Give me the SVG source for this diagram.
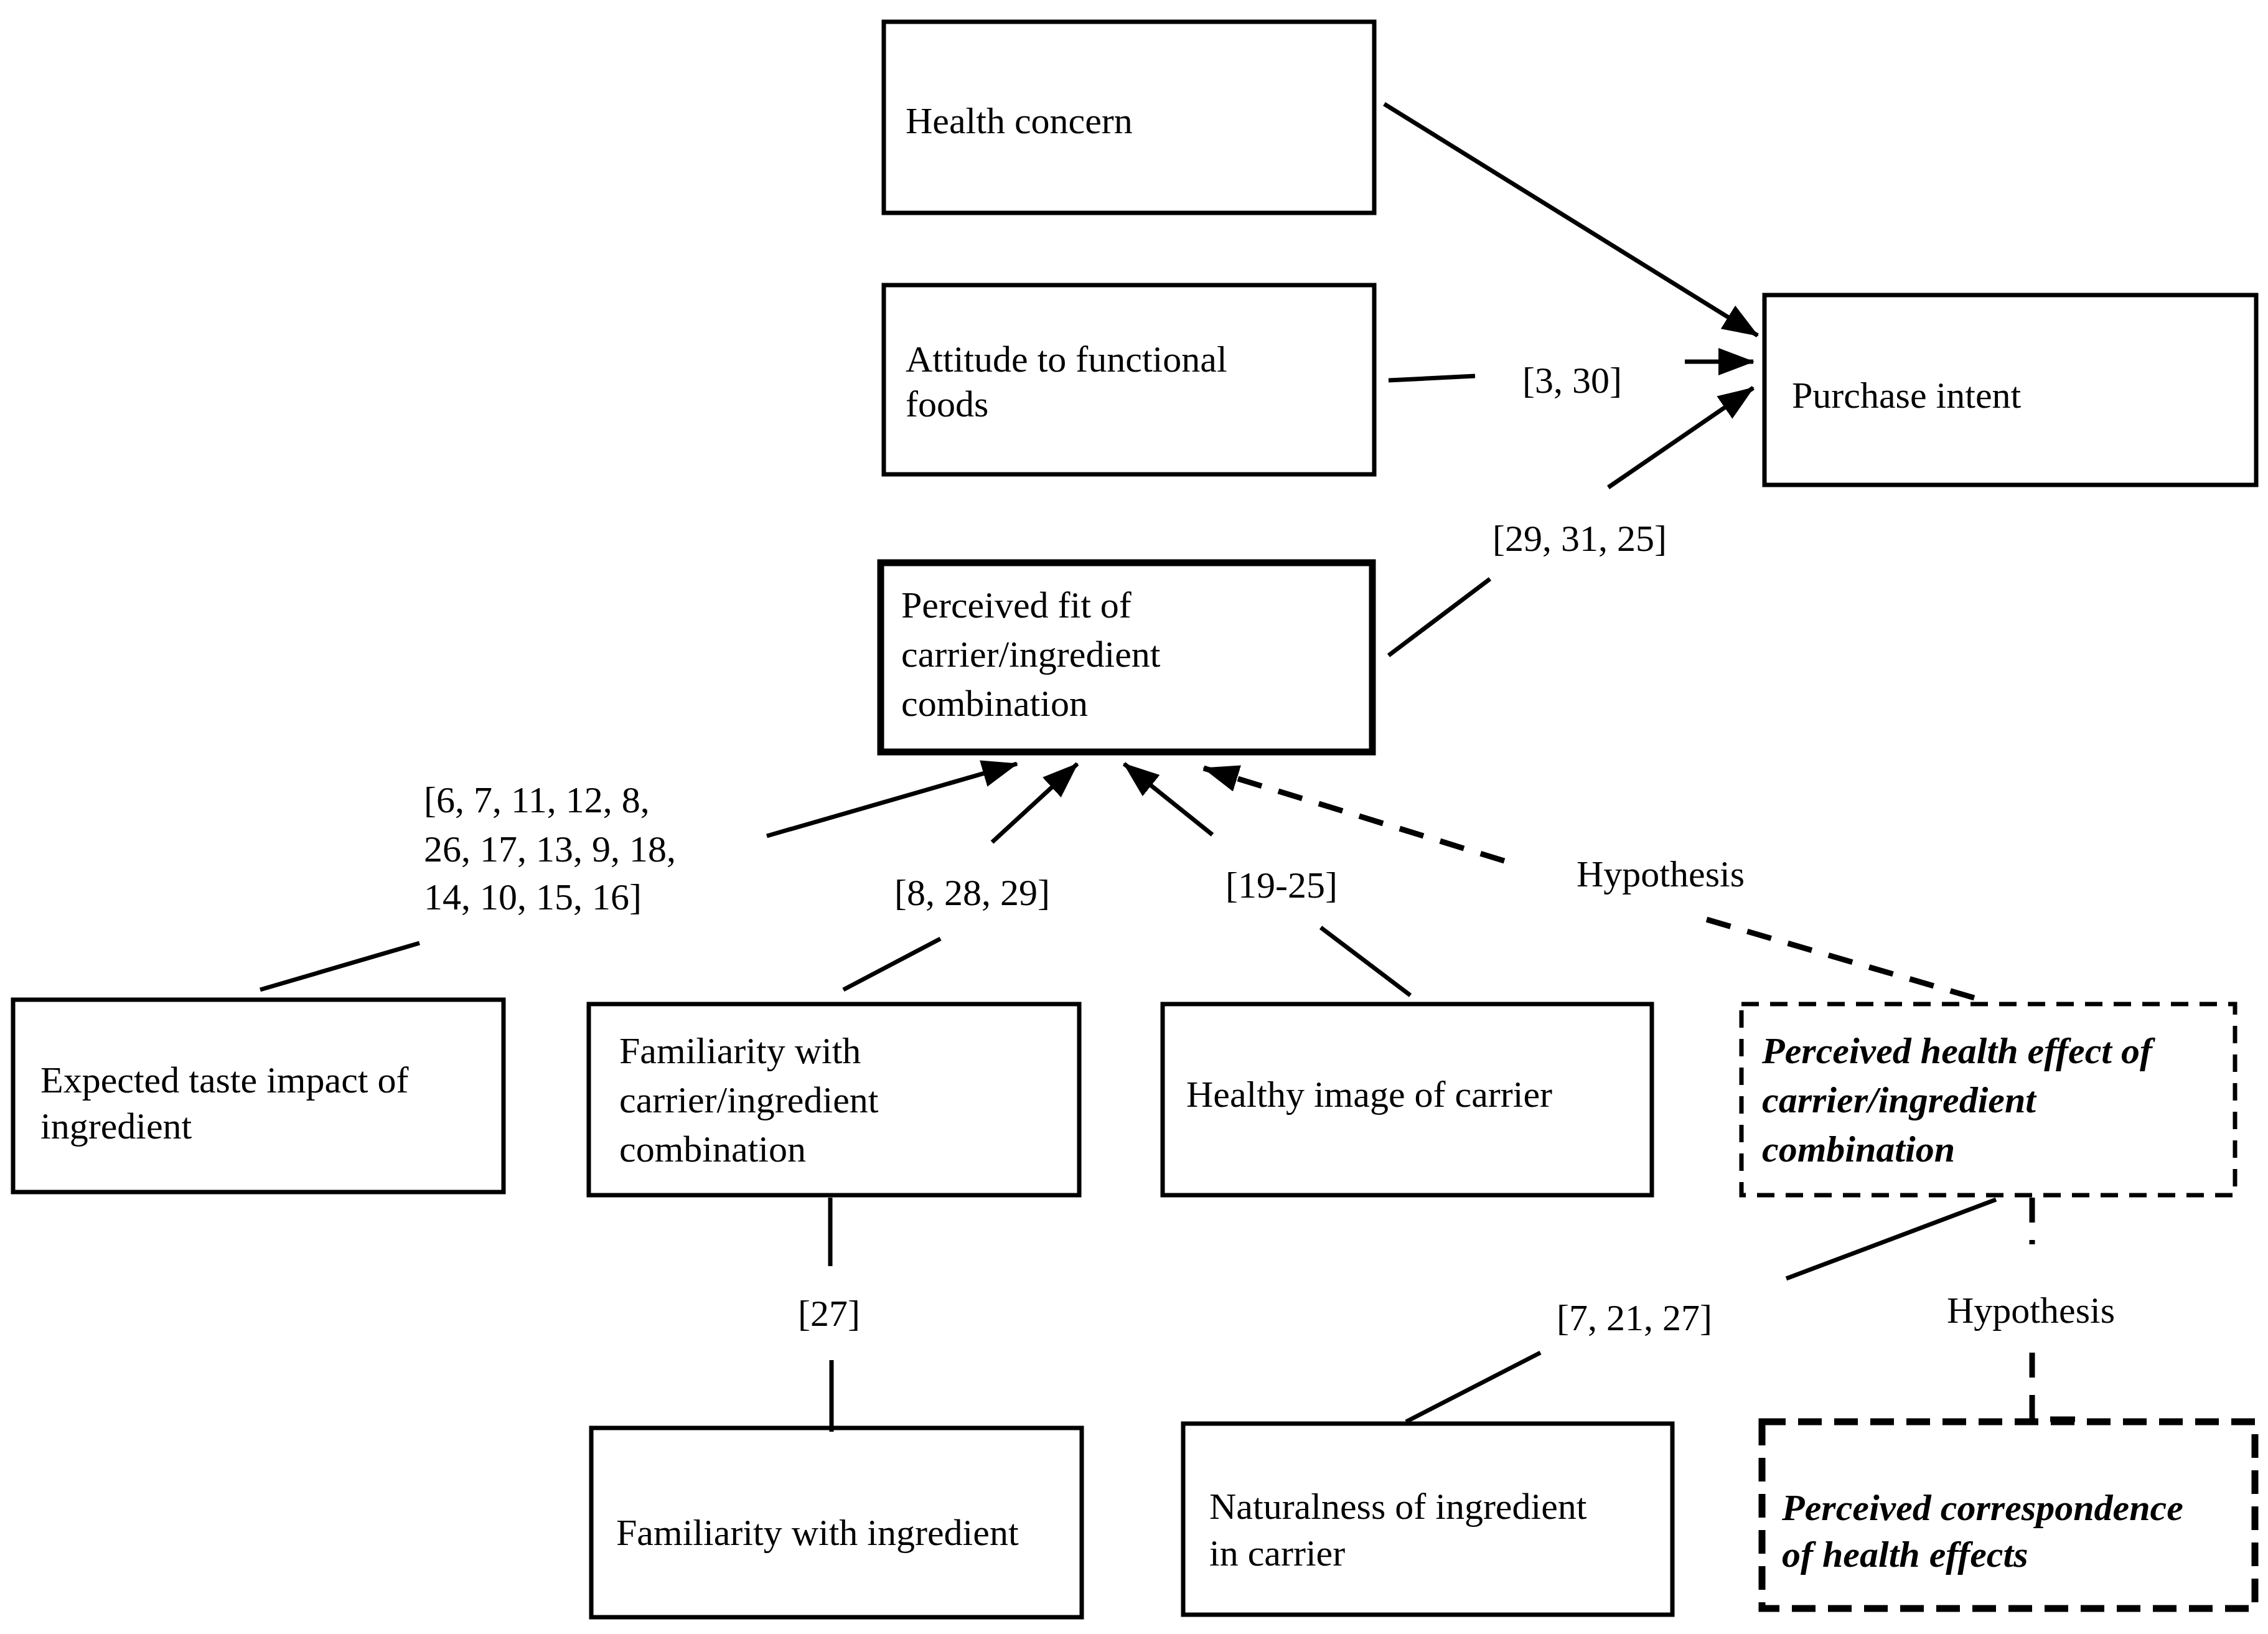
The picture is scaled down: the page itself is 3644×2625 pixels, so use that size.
<svg xmlns="http://www.w3.org/2000/svg" width="3644" height="2625" viewBox="0 0 3644 2625">
<style>
.b{fill:#fff;stroke:#000;stroke-width:7}
.t{fill:#fff;stroke:#000;stroke-width:11}
.d{fill:#fff;stroke:#000;stroke-width:7;stroke-dasharray:28 18}
.td{fill:#fff;stroke:#000;stroke-width:11;stroke-dasharray:38 20}
text{font-family:"Liberation Serif",serif;font-size:60px;fill:#000}
.bi{font-weight:bold;font-style:italic}
.l{stroke:#000;stroke-width:7;fill:none}
.dl{stroke:#000;stroke-width:9;fill:none;stroke-dasharray:40 28}
</style>
<defs>
<marker id="a" markerUnits="userSpaceOnUse" markerWidth="60" markerHeight="50" refX="56" refY="22" orient="auto"><path d="M0,0 L58,22 L0,44 Z" fill="#000"/></marker>
</defs>
<rect width="3644" height="2625" fill="#fff"/>
<g id="n1"><rect class="b" x="1420" y="35" width="788" height="307"/><text x="1455" y="214">Health concern</text></g>
<g id="n2"><rect class="b" x="1420" y="458" width="788" height="304"/><text x="1455" y="597">Attitude to functional</text><text x="1455" y="669">foods</text></g>
<g id="n3"><rect class="b" x="2835" y="474" width="790" height="305"/><text x="2879" y="655">Purchase intent</text></g>
<g id="n4"><rect class="t" x="1415" y="904" width="790" height="304"/><text x="1448" y="992">Perceived fit of</text><text x="1448" y="1071">carrier/ingredient</text><text x="1448" y="1150">combination</text></g>
<g id="n5"><rect class="b" x="21" y="1606" width="788" height="309"/><text x="65" y="1755">Expected taste impact of</text><text x="65" y="1829">ingredient</text></g>
<g id="n6"><rect class="b" x="946" y="1613" width="788" height="307"/><text x="995" y="1708">Familiarity with</text><text x="995" y="1787">carrier/ingredient</text><text x="995" y="1866">combination</text></g>
<g id="n7"><rect class="b" x="1868" y="1613" width="786" height="307"/><text x="1906" y="1778">Healthy image of carrier</text></g>
<g id="n8"><rect class="d" x="2798" y="1613" width="793" height="307"/><text class="bi" x="2831" y="1708">Perceived health effect of</text><text class="bi" x="2831" y="1787">carrier/ingredient</text><text class="bi" x="2831" y="1866">combination</text></g>
<g id="n9"><rect class="b" x="950" y="2294" width="788" height="304"/><text x="990" y="2482">Familiarity with ingredient</text></g>
<g id="n10"><rect class="b" x="1901" y="2287" width="786" height="307"/><text x="1943" y="2440">Naturalness of ingredient</text><text x="1943" y="2515">in carrier</text></g>
<g id="n11"><rect class="td" x="2831" y="2284" width="792" height="300"/><text class="bi" x="2863" y="2442">Perceived correspondence</text><text class="bi" x="2863" y="2517">of health effects</text></g>
<g id="connectors">
<line class="l" x1="2224" y1="167" x2="2824" y2="539" marker-end="url(#a)"/>
<line class="l" x1="2231" y1="611" x2="2370" y2="604"/>
<text x="2526" y="631" text-anchor="middle">[3, 30]</text>
<line class="l" x1="2707" y1="581" x2="2817" y2="581" marker-end="url(#a)"/>
<line class="l" x1="2231" y1="1053" x2="2394" y2="930"/>
<text x="2538" y="885" text-anchor="middle">[29, 31, 25]</text>
<line class="l" x1="2584" y1="783" x2="2817" y2="623" marker-end="url(#a)"/>
<line class="l" x1="418" y1="1590" x2="674" y2="1515"/>
<text x="681" y="1305">[6, 7, 11, 12, 8,</text><text x="681" y="1384">26, 17, 13, 9, 18,</text><text x="681" y="1461">14, 10, 15, 16]</text>
<line class="l" x1="1232" y1="1343" x2="1634" y2="1227" marker-end="url(#a)"/>
<line class="l" x1="1355" y1="1590" x2="1511" y2="1508"/>
<text x="1562" y="1454" text-anchor="middle">[8, 28, 29]</text>
<line class="l" x1="1594" y1="1353" x2="1731" y2="1227" marker-end="url(#a)"/>
<line class="l" x1="2266" y1="1599" x2="2122" y2="1490"/>
<text x="2059" y="1442" text-anchor="middle">[19-25]</text>
<line class="l" x1="1948" y1="1341" x2="1806" y2="1227" marker-end="url(#a)"/>
<line class="dl" x1="3172" y1="1603" x2="2738" y2="1476"/>
<text x="2668" y="1424" text-anchor="middle">Hypothesis</text>
<line class="dl" x1="2417" y1="1383" x2="1934" y2="1234" marker-end="url(#a)"/>
<line class="l" x1="1334" y1="1924" x2="1334" y2="2034"/>
<text x="1332" y="2130" text-anchor="middle">[27]</text>
<line class="l" x1="1336" y1="2185" x2="1336" y2="2300"/>
<line class="l" x1="2870" y1="2054" x2="3207" y2="1927"/>
<text x="2626" y="2137" text-anchor="middle">[7, 21, 27]</text>
<line class="l" x1="2475" y1="2173" x2="2259" y2="2284"/>
<line class="dl" x1="3265" y1="1924" x2="3265" y2="1999"/>
<text x="3263" y="2125" text-anchor="middle">Hypothesis</text>
<polyline class="dl" points="3265,2173 3265,2280 3346,2280"/>
</g>
</svg>
